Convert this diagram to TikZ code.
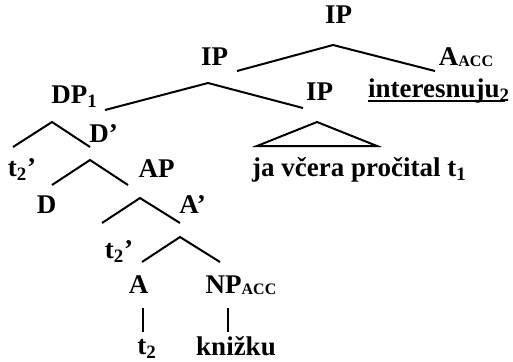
\documentclass[tikz,border=0pt]{standalone}
\usepackage{tikz}
\usetikzlibrary{calc}
\usepackage{fontspec}
\setmainfont{Liberation Serif}

\begin{document}
\begin{tikzpicture}[x=0.5pt,y=-0.5pt,
  lbl/.style={inner sep=0,anchor=base,font=\fontsize{13.5}{16}\selectfont\bfseries},
  branch/.style={line width=1pt}]

  \useasboundingbox (0,0) rectangle (513,361);

  % labels
  \node[lbl] (ipTop) at (338.5,23) {IP};
  \node[lbl] (aacc) at (466,65) {A\raisebox{-0.1ex}{\footnotesize ACC}};
  \node[lbl] (ipMid) at (214.5,65) {IP};
  \node[lbl] (dp) at (74.5,103) {DP\textsubscript{1}};
  \node[lbl] (ipLow) at (319.5,100) {IP};
  \node[lbl] (intr) at (439,97) {interesnuju\textsubscript{2}};
  \node[lbl] (dbar) at (103.5,142) {D'};
  \node[lbl] (t2a) at (22,176) {t\textsubscript{2}'};
  \node[lbl] (ap) at (156.5,177) {AP};
  \node[lbl] (ja) at (359.5,176) {ja včera pročital t\textsubscript{1}};
  \node[lbl] (d) at (46.5,213) {D};
  \node[lbl] (abar) at (192.5,213) {A'};
  \node[lbl] (t2b) at (119,258) {t\textsubscript{2}'};
  \node[lbl] (a) at (138.5,293) {A};
  \node[lbl] (np) at (241,293) {NP\raisebox{-0.1ex}{\footnotesize ACC}};
  \node[lbl] (t2c) at (147,354) {t\textsubscript{2}};
  \node[lbl] (knizku) at (236,355) {knižku};

  % branch points
  \coordinate (ipTopL) at (237,71);
  \coordinate (ipTopA) at (333,45);
  \coordinate (ipTopR) at (435,71);
  \coordinate (ipMidL) at (105,110);
  \coordinate (ipMidA) at (208,83);
  \coordinate (ipMidR) at (303,108);
  \coordinate (dpL) at (13,147);
  \coordinate (dpA) at (52,122);
  \coordinate (dpR) at (90,147);
  \coordinate (dbarL) at (52,185);
  \coordinate (dbarA) at (90,160);
  \coordinate (dbarR) at (128,185);
  \coordinate (apL) at (102,223);
  \coordinate (apA) at (140,198);
  \coordinate (apR) at (180,223);
  \coordinate (abarL) at (142,262);
  \coordinate (abarA) at (180,237);
  \coordinate (abarR) at (220,262);
  \coordinate (ipLowL) at (257,146);
  \coordinate (ipLowA) at (317,122);
  \coordinate (ipLowR) at (377,146);
  \coordinate (aT) at (143,308);
  \coordinate (aB) at (143,332);
  \coordinate (npT) at (228,308);
  \coordinate (npB) at (228,332);

  \foreach \l/\m/\r in {ipTopL/ipTopA/ipTopR,ipMidL/ipMidA/ipMidR,dpL/dpA/dpR,
    dbarL/dbarA/dbarR,apL/apA/apR,abarL/abarA/abarR}
  {
    \draw[branch] (\l) -- (\m) -- (\r);
  }

  \draw[branch] (ipLowA) -- (ipLowL) -- (ipLowR) -- cycle;
  \draw[branch] (aT) -- (aB);
  \draw[branch] (npT) -- (npB);

  % underline
  \draw[branch] ($(intr.base west)+(0,4)$) -- ($(intr.base east)+(-5,4)$);
\end{tikzpicture}
\end{document}
